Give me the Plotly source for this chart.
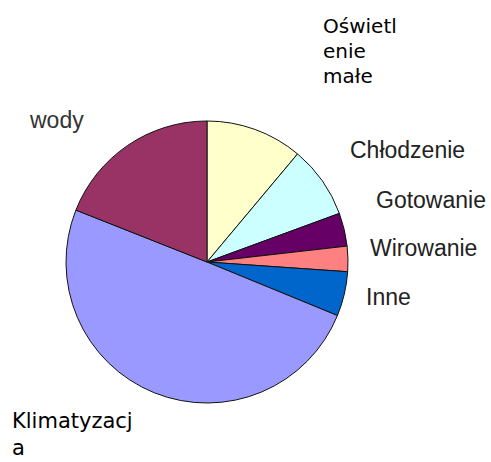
import plotly.graph_objects as go

W, H = 491, 462

categories = ["Oświetlenie małe", "Chłodzenie", "Gotowanie", "Wirowanie", "Inne", "Klimatyzacja", "Podgrzewanie wody"]
values = [11.1, 8.3, 3.8, 2.9, 5.1, 49.8, 19.0]
colors = ["#FFFFCC", "#CCFFFF", "#660066", "#FF8080", "#0066CC", "#9999FF", "#993366"]

cx, cy, r = 207, 262, 141

fig = go.Figure(go.Pie(
    labels=categories,
    values=values,
    sort=False,
    direction="clockwise",
    rotation=0,
    marker=dict(colors=colors, line=dict(color="#111111", width=1)),
    textinfo="none",
    hoverinfo="label+percent",
    showlegend=False,
    domain=dict(x=[(cx - r) / W, (cx + r) / W], y=[1 - (cy + r) / H, 1 - (cy - r) / H]),
))

def px(x, y):
    return x / W, 1 - y / H

ann = []
def add(text, x, y, font, size, color):
    ax, ay = px(x, y)
    ann.append(dict(text=text, x=ax, y=ay, xref="paper", yref="paper", xanchor="left", yanchor="middle",
                    showarrow=False, font=dict(family=font, size=size, color=color)))

verd = "DejaVu Sans"
ari = "Liberation Sans"
add("Oświetl", 321, 26, verd, 20, "#000")
add("enie", 321, 51, verd, 20, "#000")
add("małe", 321, 76, verd, 20, "#000")
add("Klimatyzacj", 10, 421, verd, 21, "#000")
add("a", 10, 448, verd, 21, "#000")
add("wody", 27, 120, ari, 23, "#333")
add("Chłodzenie", 348, 150, ari, 23, "#222")
add("Gotowanie", 374, 200, ari, 23, "#222")
add("Wirowanie", 368, 248, ari, 23, "#222")
add("Inne", 364, 297, ari, 23, "#222")

fig.update_layout(
    width=W, height=H,
    margin=dict(l=0, r=0, t=0, b=0),
    paper_bgcolor="white", plot_bgcolor="white",
    annotations=ann,
)

fig.write_html("out.html")
